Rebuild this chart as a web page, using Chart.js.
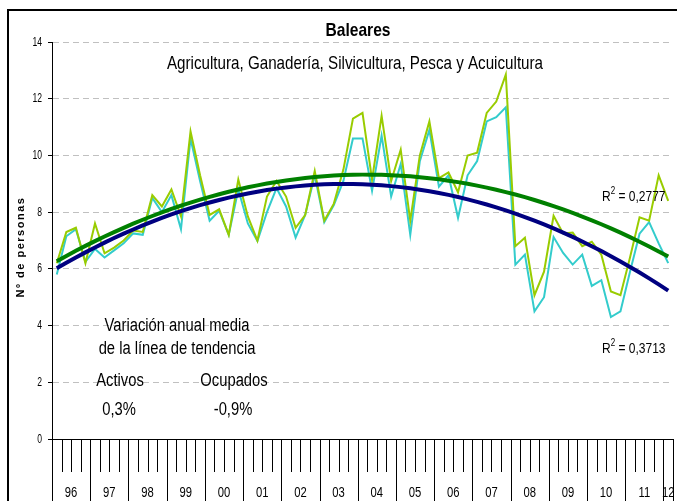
<!DOCTYPE html>
<html>
<head>
<meta charset="utf-8">
<script src="https://cdn.jsdelivr.net/npm/chart.js@4.4.1/dist/chart.umd.min.js"></script>
<style>
  html, body { margin: 0; padding: 0; background: #fff; }
  #wrap { width: 677px; height: 501px; }
</style>
</head>
<body>
<div id="wrap"><canvas id="chart" width="677" height="501"></canvas></div>
<script>
// Years on the category axis (one label per year, quarterly data 1996 T1 .. 2012 T1)
const YEARS = ['96', '97', '98', '99', '00', '01', '02', '03', '04', '05', '06', '07', '08', '09', '10', '11', '12'];

// Activos (thousands of persons), quarterly
const ACTIVOS = [
  6.2, 7.3, 7.45, 6.2,  7.6, 6.55, 6.75, 7.0,  7.35, 7.3, 8.6, 8.2,  8.8, 7.85, 10.85, 9.3,
  7.9, 8.1, 7.2, 9.15,  7.85, 7.0, 8.55, 9.1,  8.55, 7.45, 7.9, 9.45,  7.7, 8.3, 9.5, 11.3,
  11.5, 9.15, 11.4, 9.1,  10.2, 7.7, 10.0, 11.2,  9.2, 9.4, 8.7, 10.0,  10.1, 11.5, 11.9, 12.85,
  6.8, 7.1, 5.07, 5.9,  7.87, 7.25, 7.28, 6.8,  6.96, 6.5, 5.2, 5.07,  6.4, 7.82, 7.7, 9.3,
  8.4
];

// Ocupados (thousands of persons), quarterly
const OCUPADOS = [
  5.8, 7.15, 7.4, 6.25,  6.7, 6.4, 6.65, 6.9,  7.25, 7.2, 8.5, 8.0,  8.6, 7.4, 10.6, 9.1,
  7.7, 8.05, 7.2, 8.8,  7.6, 6.98, 8.0, 8.85,  8.2, 7.1, 7.9, 9.3,  7.65, 8.25, 9.1, 10.6,
  10.6, 8.75, 10.7, 8.55,  9.7, 7.2, 9.8, 10.9,  8.9, 9.3, 7.8, 9.3,  9.8, 11.2, 11.35, 11.7,
  6.15, 6.5, 4.5, 5.0,  7.12, 6.56, 6.15, 6.5,  5.4, 5.6, 4.3, 4.5,  5.9, 7.24, 7.65, 6.9,
  6.2
];

const Y_TICKS = [0, 2, 4, 6, 8, 10, 12, 14];

const R2_ACTIVOS = '0,2777';
const R2_OCUPADOS = '0,3713';
const VAR_ACTIVOS = '0,3%';
const VAR_OCUPADOS = '-0,9%';

const labels = ACTIVOS.map((_, i) => YEARS[Math.floor(i / 4)] + 'T' + ((i % 4) + 1));

// Polynomial (order 2) trend line, least squares on x = 1..n like the spreadsheet does
function quadTrend(ys) {
  const s = [0, 0, 0, 0, 0];
  const t = [0, 0, 0];
  ys.forEach((y, i) => {
    const x = i + 1;
    let p = 1;
    for (let k = 0; k < 5; k++) {
      s[k] += p;
      if (k < 3) t[k] += p * y;
      p *= x;
    }
  });
  const m = [
    [s[0], s[1], s[2], t[0]],
    [s[1], s[2], s[3], t[1]],
    [s[2], s[3], s[4], t[2]],
  ];
  for (let c = 0; c < 3; c++) {
    for (let r = c + 1; r < 3; r++) {
      const f = m[r][c] / m[c][c];
      for (let k = c; k < 4; k++) m[r][k] -= f * m[c][k];
    }
  }
  const coef = [0, 0, 0];
  for (let r = 2; r >= 0; r--) {
    let v = m[r][3];
    for (let k = r + 1; k < 3; k++) v -= m[r][k] * coef[k];
    coef[r] = v / m[r][r];
  }
  return ys.map((_, i) => coef[0] + coef[1] * (i + 1) + coef[2] * (i + 1) * (i + 1));
}

const trendActivos = quadTrend(ACTIVOS);
const trendOcupados = quadTrend(OCUPADOS);

const FONT = '"Liberation Sans", Arial, sans-serif';

function drawText(ctx, str, x, y, opts = {}) {
  const { size = 18, bold = false, align = 'center', sx = 0.82, baseline = 'alphabetic' } = opts;
  ctx.save();
  ctx.font = (bold ? 'bold ' : '') + size + 'px ' + FONT;
  ctx.textAlign = align;
  ctx.textBaseline = baseline;
  ctx.fillStyle = '#000';
  ctx.translate(x, y);
  ctx.scale(sx, 1);
  ctx.fillText(str, 0, 0);
  ctx.restore();
}

function drawR2(ctx, value, x, y) {
  const sx = 0.8;
  ctx.save();
  ctx.fillStyle = '#000';
  ctx.textBaseline = 'alphabetic';
  ctx.translate(x, y);
  ctx.scale(sx, 1);
  ctx.font = '15px ' + FONT;
  ctx.fillText('R', 0, 0);
  let w = ctx.measureText('R').width;
  ctx.font = '10px ' + FONT;
  ctx.fillText('2', w, -7);
  w += ctx.measureText('2').width;
  ctx.font = '15px ' + FONT;
  ctx.fillText(' = ' + value, w, 0);
  ctx.restore();
}

const decor = {
  id: 'decor',
  afterDraw(chart) {
    const { ctx, chartArea, scales } = chart;
    const xs = scales.x;
    const ys = scales.y;

    // outer frame (only left and top edges are visible in the window)
    ctx.save();
    ctx.strokeStyle = '#000';
    ctx.lineWidth = 2;
    ctx.beginPath();
    ctx.moveTo(8, 700);
    ctx.lineTo(8, 10);
    ctx.lineTo(900, 10);
    ctx.stroke();
    ctx.restore();

    // titles
    drawText(ctx, 'Baleares', 358, 36, { size: 19, bold: true, sx: 0.82 });
    drawText(ctx, 'Agricultura, Ganadería, Silvicultura, Pesca y Acuicultura', 355, 69, { size: 18.5 });

    // y axis title
    ctx.save();
    ctx.translate(24, 247);
    ctx.rotate(-Math.PI / 2);
    ctx.font = 'bold 11px ' + FONT;
    ctx.letterSpacing = '1.5px';
    ctx.textAlign = 'center';
    ctx.textBaseline = 'alphabetic';
    ctx.fillStyle = '#000';
    ctx.fillText('Nº de personas', 0, 0);
    ctx.restore();

    // y tick labels
    Y_TICKS.forEach((v) => {
      drawText(ctx, String(v), 42, ys.getPixelForValue(v), { size: 13, align: 'right', sx: 0.66, baseline: 'middle' });
    });

    // category axis: quarter ticks, year separators and year labels
    const n = labels.length;
    const catW = xs.getPixelForValue(1) - xs.getPixelForValue(0);
    const base = chartArea.bottom;
    ctx.save();
    ctx.strokeStyle = '#000';
    ctx.lineWidth = 1;
    for (let b = 0; b <= n; b++) {
      const x = Math.round(xs.getPixelForValue(0) - catW / 2 + b * catW) + 0.5;
      const isYear = b % 4 === 0 || b === n;
      ctx.beginPath();
      ctx.moveTo(x, base);
      ctx.lineTo(x, isYear ? 520 : base + 33);
      ctx.stroke();
    }
    ctx.restore();
    YEARS.forEach((yr, k) => {
      const first = k * 4;
      const last = Math.min(first + 3, n - 1);
      const cx = (xs.getPixelForValue(first) + xs.getPixelForValue(last)) / 2;
      drawText(ctx, yr, cx, 497, { size: 15, sx: 0.75 });
    });

    // annotations
    drawText(ctx, 'Variación anual media', 177, 331);
    drawText(ctx, 'de la línea de tendencia', 177, 354);
    drawText(ctx, 'Activos', 120, 386);
    drawText(ctx, 'Ocupados', 234, 386);
    drawText(ctx, VAR_ACTIVOS, 119, 415);
    drawText(ctx, VAR_OCUPADOS, 233, 415);

    drawR2(ctx, R2_ACTIVOS, 602, 201);
    drawR2(ctx, R2_OCUPADOS, 602, 353);
  }
};

new Chart(document.getElementById('chart'), {
  type: 'line',
  data: {
    labels: labels,
    datasets: [
      { label: 'Tendencia ocupados', data: trendOcupados, borderColor: '#000080', borderWidth: 4, pointRadius: 0, order: 0 },
      { label: 'Tendencia activos', data: trendActivos, borderColor: '#008000', borderWidth: 4, pointRadius: 0, order: 1 },
      { label: 'Activos', data: ACTIVOS, borderColor: '#99CC00', borderWidth: 2, pointRadius: 0, order: 2 },
      { label: 'Ocupados', data: OCUPADOS, borderColor: '#33CCCC', borderWidth: 2, pointRadius: 0, order: 3 },
    ],
  },
  options: {
    responsive: false,
    animation: false,
    layout: { padding: { left: 0, right: 4, top: 42, bottom: 0 } },
    plugins: {
      legend: { display: false },
      title: { display: false },
      tooltip: { enabled: false },
    },
    scales: {
      x: {
        offset: true,
        grid: { display: false },
        ticks: { display: false },
        border: { color: '#000', width: 1 },
        afterFit(scale) { scale.height = 62; },
      },
      y: {
        min: 0,
        max: 14,
        ticks: { stepSize: 2, display: false },
        grid: {
          color: (c) => (c.tick && c.tick.value === 0 ? '#000' : '#c0c0c0'),
          tickColor: '#000',
          tickLength: 4,
        },
        border: { color: '#000', width: 1, dash: [6, 4] },
        afterFit(scale) { scale.width = 52; },
      },
    },
  },
  plugins: [decor],
});
</script>
</body>
</html>
